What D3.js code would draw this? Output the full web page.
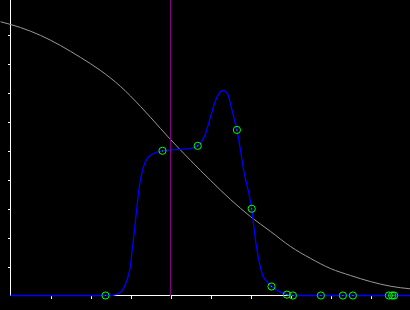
<!DOCTYPE html>
<html>
<head>
<meta charset="utf-8">
<script src="https://cdn.jsdelivr.net/npm/d3@7"></script>
<style>
html,body{margin:0;padding:0;background:#000;overflow:hidden}
svg{display:block}
</style>
</head>
<body>
<div id="chart"></div>
<script>
// density curve (blue)
var densX = [0, 2.25, 2.54, 2.75, 2.875, 2.96, 3.0, 3.04, 3.08, 3.125, 3.17, 3.21, 3.25, 3.29, 3.33, 3.375, 3.43, 3.5, 3.67, 3.79,
  4.0, 4.25, 4.5, 4.675, 4.875, 5.0, 5.125, 5.21, 5.32, 5.42, 5.5, 5.58, 5.66, 5.75, 5.83, 5.96, 6.03,
  6.125, 6.2, 6.29, 6.42, 6.525, 6.67, 6.92, 7.05, 10];
var densY = [0, 0, 0, 0.011, 0.040, 0.075, 0.103, 0.155, 0.201, 0.258, 0.316, 0.365, 0.400, 0.425, 0.445, 0.462, 0.474, 0.483, 0.494, 0.498,
  0.502, 0.504, 0.507, 0.516, 0.558, 0.615, 0.672, 0.696, 0.707, 0.696, 0.661, 0.615, 0.571, 0.5, 0.431, 0.351, 0.299,
  0.19, 0.128, 0.075, 0.046, 0.031, 0.017, 0.003, 0, 0];

// survival curve (grey)
var survX = [-0.25, 0.25, 0.75, 1.25, 1.75, 2.25, 2.75, 3.25, 3.75, 4.0, 4.5, 5.0, 5.5, 6.0, 6.5, 7.0, 7.5, 8.0, 8.5, 9.0, 9.5, 10.0];
var survY = [0.944, 0.924, 0.897, 0.862, 0.821, 0.776, 0.721, 0.652, 0.576, 0.538, 0.466, 0.397, 0.331, 0.272, 0.221, 0.169,
  0.128, 0.093, 0.069, 0.048, 0.032, 0.023];

// sample points (green)
var ptX = [2.375, 3.8, 4.68, 5.66, 6.03, 6.525, 6.91, 7.06, 7.76, 8.31, 8.56, 9.46, 9.54, 9.59];
var ptY = [0, 0.499, 0.516, 0.571, 0.299, 0.031, 0.003, 0, 0, 0, 0, 0, 0, 0];

var marker = 4.0;  // purple line
var xTicks = [1, 2, 3, 4, 5, 6, 7, 8, 9];
var yTicks = [0.1, 0.2, 0.3, 0.4, 0.5, 0.6, 0.7, 0.8, 0.9];

var W = 410, H = 310;
var x = d3.scaleLinear().domain([0, 10]).range([10.5, 410.5]);
var y = d3.scaleLinear().domain([0, 1]).range([295.5, 5.5]);

var svg = d3.select('#chart').append('svg')
  .attr('width', W).attr('height', H)
  .style('background', '#000');

// axes
var gy = svg.append('g').attr('transform', 'translate(' + x(0) + ',0)')
  .call(d3.axisLeft(y).tickValues(yTicks).tickSize(3).tickFormat(''));
var gx = svg.append('g').attr('transform', 'translate(0,' + y(0) + ')')
  .call(d3.axisBottom(x).tickValues(xTicks).tickSize(3).tickFormat(''));
svg.selectAll('.domain').remove();
svg.selectAll('.tick line').attr('stroke', '#fff').attr('shape-rendering', 'crispEdges');
svg.append('line').attr('x1', x(0)).attr('x2', x(0)).attr('y1', 0).attr('y2', y(0))
  .attr('stroke', '#fff').attr('shape-rendering', 'crispEdges');
svg.append('line').attr('x1', x(0)).attr('x2', W).attr('y1', y(0)).attr('y2', y(0))
  .attr('stroke', '#fff').attr('shape-rendering', 'crispEdges');

// grey curve
var surv = d3.range(survX.length).map(function(i){ return [survX[i], survY[i]]; });
svg.append('path').datum(surv)
  .attr('fill', 'none').attr('stroke', '#999').attr('stroke-width', 1)
  .attr('d', d3.line().x(function(d){return x(d[0]);}).y(function(d){return y(d[1]);}).curve(d3.curveMonotoneX));

// blue density
var dens = d3.range(densX.length).map(function(i){ return [densX[i], densY[i]]; });
svg.append('path').datum(dens)
  .attr('fill', 'none').attr('stroke', '#0000ff').attr('stroke-width', 1.3)
  .attr('d', d3.line().x(function(d){return x(d[0]);}).y(function(d){return y(d[1]);}).curve(d3.curveMonotoneX));

// purple marker
svg.append('line').attr('x1', x(marker)).attr('x2', x(marker)).attr('y1', 0).attr('y2', y(0))
  .attr('stroke', '#800080').attr('stroke-width', 1).attr('shape-rendering', 'crispEdges');

// points
var pts = d3.range(ptX.length).map(function(i){ return [ptX[i], ptY[i]]; });
var gp = svg.append('g');
gp.selectAll('circle.ring').data(pts).enter().append('circle')
  .attr('class', 'ring')
  .attr('cx', function(d){return x(d[0]);}).attr('cy', function(d){return y(d[1]);})
  .attr('r', 3.6).attr('fill', 'none').attr('stroke', '#00ff00').attr('stroke-width', 1);
gp.selectAll('circle.dot').data(pts).enter().append('circle')
  .attr('class', 'dot')
  .attr('cx', function(d){return x(d[0]);}).attr('cy', function(d){return y(d[1]);})
  .attr('r', 0.6).attr('fill', '#00ff00');
</script>
</body>
</html>
